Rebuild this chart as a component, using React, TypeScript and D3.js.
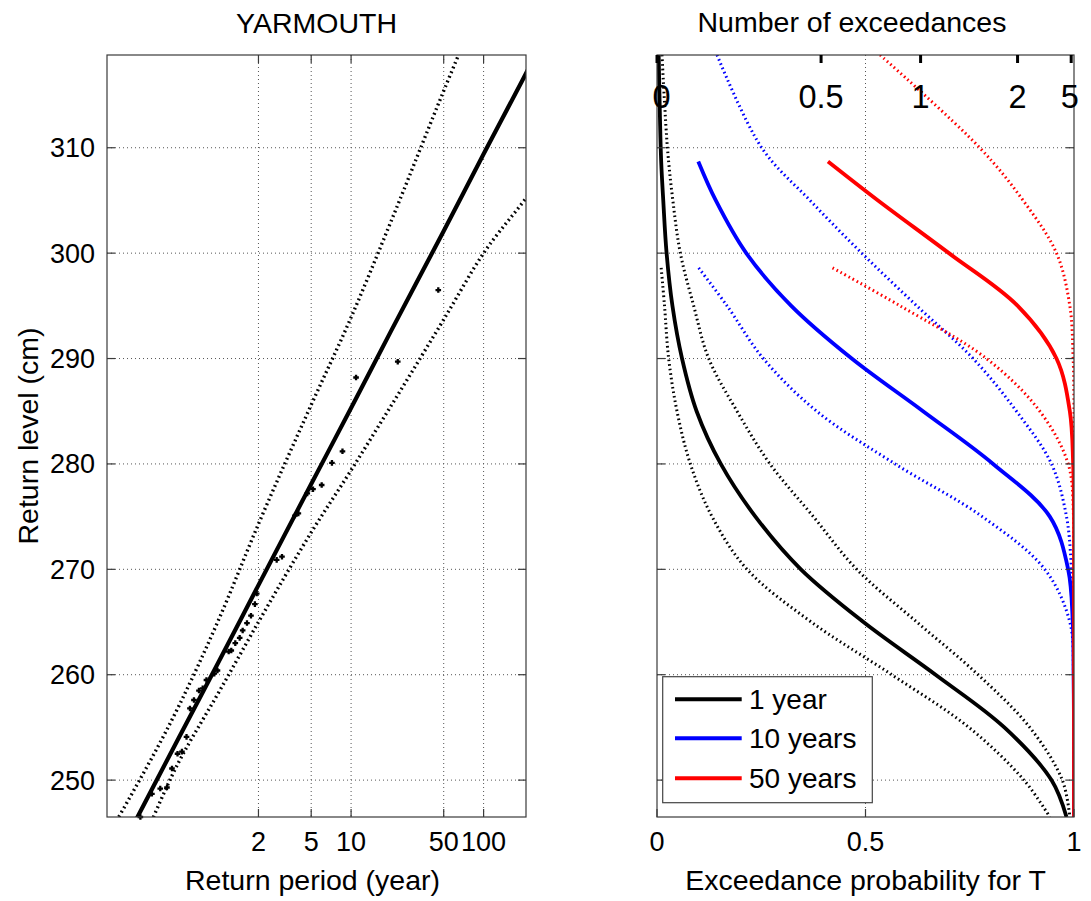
import React from 'react';
import * as d3 from 'd3';

const FONT = '"Liberation Sans", Arial, Helvetica, sans-serif';

// ---------- Left panel: return level plot ----------
const returnPeriods = [0.1, 0.2, 0.5, 1, 2, 5, 10, 20, 50, 100, 200, 300];
const fittedLevel = [237.2, 244.4, 254.0, 261.2, 268.5, 278.1, 285.3, 292.6, 302.1, 309.4, 316.6, 320.9];
const upperLevel = [241.2, 247.7, 257.0, 265.2, 274.3, 285.6, 293.9, 303.0, 315.4, 324.5, 333.5, 338.8];
const lowerLevel = [236.0, 241.1, 251.7, 258.3, 265.0, 273.5, 279.4, 285.5, 293.7, 300.0, 304.9, 307.8];

const obsPeriod = [45.5, 22.5, 10.9, 8.61, 7.17, 6.0, 5.16, 4.67, 4.0, 3.77, 3.01, 2.745, 1.94, 1.88, 1.756, 1.638, 1.52, 1.443, 1.337, 1.247, 1.192, 0.981, 0.928, 0.81, 0.759, 0.711, 0.652, 0.608, 0.573, 0.529, 0.49, 0.445, 0.408, 0.363, 0.314, 0.257];
const obsLevel = [296.5, 289.7, 288.2, 281.2, 280.1, 278.0, 277.6, 277.2, 275.3, 275.1, 271.2, 270.9, 267.7, 266.7, 265.6, 264.9, 264.2, 263.5, 263.0, 262.3, 262.2, 260.4, 260.1, 259.5, 258.7, 258.5, 257.6, 256.8, 254.1, 252.7, 252.5, 251.1, 249.3, 249.2, 248.7, 246.5];

const periodTicks = [2, 5, 10, 50, 100];
const levelTicks = [250, 260, 270, 280, 290, 300, 310];

// ---------- Right panel: exceedance probability ----------
const levels1yr = [318.8, 313, 308.7, 305, 300, 295, 290, 285, 280, 275, 270, 265, 260, 255, 250, 246.5];
const prob1yr = [0.004, 0.007, 0.010, 0.015, 0.023, 0.037, 0.060, 0.095, 0.153, 0.236, 0.345, 0.495, 0.668, 0.833, 0.946, 0.982];

const levelsMid = [308.7, 305, 300, 295, 290, 285, 280, 275, 270, 265, 260, 255, 250, 246.5];
const prob10yr = [0.099, 0.141, 0.214, 0.322, 0.467, 0.638, 0.806, 0.942, 0.986, 0.997, 0.999, 1, 1, 1];
const prob50yr = [0.41, 0.53, 0.7, 0.865, 0.958, 0.99, 0.998, 1, 1, 1, 1, 1, 1, 1];

const levelsHi = [318.8, 310, 305, 300, 295, 290, 285, 280, 275, 270, 265, 260, 255, 250, 246.5];
const prob1yrHi = [0.012, 0.025, 0.038, 0.056, 0.088, 0.124, 0.192, 0.271, 0.375, 0.479, 0.623, 0.77, 0.894, 0.972, 0.99];
const prob10yrHi = [0.144, 0.251, 0.367, 0.491, 0.623, 0.758, 0.862, 0.946, 0.982, 0.994, 0.999, 1, 1, 1, 1];
const prob50yrHi = [0.535, 0.774, 0.878, 0.958, 0.99, 0.998, 1, 1, 1, 1, 1, 1, 1, 1, 1];

const levelsLo = [298.6, 295, 290, 285, 280, 275, 270, 265, 260, 255, 250, 246.5];
const prob1yrLo = [0.010, 0.018, 0.028, 0.048, 0.08, 0.132, 0.216, 0.37, 0.563, 0.748, 0.88, 0.942];
const prob10yrLo = [0.1, 0.168, 0.255, 0.383, 0.571, 0.78, 0.93, 0.99, 0.999, 1, 1, 1];
const prob50yrLo = [0.421, 0.583, 0.79, 0.918, 0.986, 0.999, 1, 1, 1, 1, 1, 1];

const probTicks = [0, 0.5, 1];
const exceedTicks = [0, 0.5, 1, 2, 5];
const legendLabels = ['1 year', '10 years', '50 years'];
const seriesColors = ['#000000', '#0000ff', '#ff0000'];

// ---------- Layout ----------
const W = 1091;
const H = 901;
const top = 55;
const bottom = 817;
const L = { x0: 107, x1: 526 };
const R = { x0: 657, x1: 1074 };

const yScale = d3.scaleLinear().domain([246.5, 318.8]).range([bottom, top]);
const xLeft = d3.scaleLog().domain([0.1439, 208.9]).range([L.x0, L.x1]);
const xRight = d3.scaleLinear().domain([0, 1]).range([R.x0, R.x1]);

const gridStyle = { stroke: '#555', strokeWidth: 1, strokeDasharray: '1,3', fill: 'none' };
const frameColor = '#3a3a3a';

function lineLeft(levels: number[]) {
  const pts = returnPeriods.map((t, i) => [xLeft(t), yScale(levels[i])] as [number, number]);
  return d3.line().curve(d3.curveMonotoneX)(pts) || '';
}

function lineRight(levels: number[], probs: number[]) {
  const pts = levels.map((lv, i) => [xRight(probs[i]), yScale(lv)] as [number, number]);
  return d3.line().curve(d3.curveCatmullRom.alpha(0.5))(pts) || '';
}

export default function App() {
  const tickLen = 8;
  const rightCurves = [
    { lv: levels1yr, mid: prob1yr, hi: prob1yrHi, lo: prob1yrLo },
    { lv: levelsMid, mid: prob10yr, hi: prob10yrHi, lo: prob10yrLo },
    { lv: levelsMid, mid: prob50yr, hi: prob50yrHi, lo: prob50yrLo },
  ];
  const legendY = [699.3, 738.3, 778.3];

  return (
    <svg
      width={W}
      height={H}
      viewBox={`0 0 ${W} ${H}`}
      style={{ position: 'absolute', left: 0, top: 0, display: 'block', background: '#fff' }}
      fontFamily={FONT}
    >
      <defs>
        <clipPath id="clipL">
          <rect x={L.x0} y={top} width={L.x1 - L.x0} height={bottom - top} />
        </clipPath>
        <clipPath id="clipR">
          <rect x={R.x0} y={top} width={R.x1 - R.x0} height={bottom - top} />
        </clipPath>
      </defs>
      <rect x={0} y={0} width={W} height={H} fill="#fff" />

      {/* ===== Left panel ===== */}
      <g>
        {levelTicks.map((v) => (
          <line key={'gl' + v} x1={L.x0} x2={L.x1} y1={yScale(v)} y2={yScale(v)} {...gridStyle} />
        ))}
        {periodTicks.map((t) => (
          <line key={'gv' + t} x1={xLeft(t)} x2={xLeft(t)} y1={top} y2={bottom} {...gridStyle} />
        ))}
        <g clipPath="url(#clipL)">
          <path d={lineLeft(upperLevel)} fill="none" stroke="#000" strokeWidth={3.4} strokeDasharray="1.8,3.2" />
          <path d={lineLeft(lowerLevel)} fill="none" stroke="#000" strokeWidth={3.4} strokeDasharray="1.8,3.2" />
          <path d={lineLeft(fittedLevel)} fill="none" stroke="#000" strokeWidth={4.2} />
        </g>
        {obsPeriod.map((t, i) => {
          const cx = xLeft(t);
          const cy = yScale(obsLevel[i]);
          return (
            <path
              key={'pt' + i}
              d={`M${cx - 2.8},${cy}L${cx + 2.8},${cy}M${cx},${cy - 2.8}L${cx},${cy + 2.8}`}
              stroke="#000"
              strokeWidth={2.3}
            />
          );
        })}
        <rect x={L.x0} y={top} width={L.x1 - L.x0} height={bottom - top} fill="none" stroke={frameColor} strokeWidth={1.2} />
        {levelTicks.map((v) => (
          <g key={'tl' + v}>
            <line x1={L.x0} x2={L.x0 + tickLen} y1={yScale(v)} y2={yScale(v)} stroke={frameColor} strokeWidth={1.2} />
            <line x1={L.x1 - tickLen} x2={L.x1} y1={yScale(v)} y2={yScale(v)} stroke={frameColor} strokeWidth={1.2} />
            <text x={95} y={yScale(v) + 9.5} textAnchor="end" fontSize={27} fill="#000">
              {v}
            </text>
          </g>
        ))}
        {periodTicks.map((t) => (
          <g key={'tx' + t}>
            <line x1={xLeft(t)} x2={xLeft(t)} y1={bottom} y2={bottom - tickLen} stroke={frameColor} strokeWidth={1.2} />
            <line x1={xLeft(t)} x2={xLeft(t)} y1={top} y2={top + tickLen} stroke={frameColor} strokeWidth={1.2} />
            <text x={xLeft(t)} y={851} textAnchor="middle" fontSize={27} fill="#000">
              {t}
            </text>
          </g>
        ))}
        <text x={(L.x0 + L.x1) / 2} y={33} textAnchor="middle" fontSize={28.5} fill="#000">
          YARMOUTH
        </text>
        <text x={(L.x0 + L.x1) / 2 - 4} y={890} textAnchor="middle" fontSize={28.5} fill="#000">
          Return period (year)
        </text>
        <text
          transform={`translate(38, ${(top + bottom) / 2}) rotate(-90)`}
          textAnchor="middle"
          fontSize={28.5}
          fill="#000"
        >
          Return level (cm)
        </text>
      </g>

      {/* ===== Right panel ===== */}
      <g>
        {levelTicks.map((v) => (
          <line key={'rgl' + v} x1={R.x0} x2={R.x1} y1={yScale(v)} y2={yScale(v)} {...gridStyle} />
        ))}
        <line x1={xRight(0.5)} x2={xRight(0.5)} y1={top} y2={bottom} {...gridStyle} />
        <g clipPath="url(#clipR)">
          {rightCurves.map((c, i) => (
            <g key={'rc' + i}>
              <path d={lineRight(levelsHi, c.hi)} fill="none" stroke={seriesColors[i]} strokeWidth={3} strokeDasharray="1.6,3" />
              <path d={lineRight(levelsLo, c.lo)} fill="none" stroke={seriesColors[i]} strokeWidth={3} strokeDasharray="1.6,3" />
            </g>
          ))}
          {rightCurves.map((c, i) => (
            <path key={'rs' + i} d={lineRight(c.lv, c.mid)} fill="none" stroke={seriesColors[i]} strokeWidth={3.8} />
          ))}
        </g>
        <rect x={R.x0} y={top} width={R.x1 - R.x0} height={bottom - top} fill="none" stroke={frameColor} strokeWidth={1.2} />
        {levelTicks.map((v) => (
          <g key={'rtl' + v}>
            <line x1={R.x0} x2={R.x0 + tickLen} y1={yScale(v)} y2={yScale(v)} stroke={frameColor} strokeWidth={1.2} />
            <line x1={R.x1 - tickLen} x2={R.x1} y1={yScale(v)} y2={yScale(v)} stroke={frameColor} strokeWidth={1.2} />
          </g>
        ))}
        {probTicks.map((p) => (
          <g key={'rpt' + p}>
            <line x1={xRight(p)} x2={xRight(p)} y1={bottom} y2={bottom - tickLen} stroke={frameColor} strokeWidth={1.2} />
            <text x={xRight(p)} y={851} textAnchor="middle" fontSize={27} fill="#000">
              {p}
            </text>
          </g>
        ))}
        {exceedTicks.map((n) => {
          const x = xRight(1 - Math.exp(-n));
          return (
            <g key={'ex' + n}>
              <line x1={x} x2={x} y1={top} y2={top + 8} stroke="#000" strokeWidth={3} />
              <text x={n === 0 ? x + 4.5 : n === 5 ? x - 1.5 : x} y={108} textAnchor="middle" fontSize={32.5} fill="#000">
                {n}
              </text>
            </g>
          );
        })}
        <text x={852} y={32} textAnchor="middle" fontSize={28.5} fill="#000">
          Number of exceedances
        </text>
        <text x={(R.x0 + R.x1) / 2} y={890} textAnchor="middle" fontSize={28.5} fill="#000">
          Exceedance probability for T
        </text>

        {/* Legend */}
        <rect x={662.7} y={676.7} width={209.6} height={126} fill="#fff" stroke="#444" strokeWidth={1.2} />
        {legendLabels.map((lab, i) => (
          <g key={'lg' + i}>
            <line x1={675} x2={741.7} y1={legendY[i]} y2={legendY[i]} stroke={seriesColors[i]} strokeWidth={4} />
            <text x={749} y={legendY[i] + 10} fontSize={28} fill="#000">
              {lab}
            </text>
          </g>
        ))}
      </g>
    </svg>
  );
}
